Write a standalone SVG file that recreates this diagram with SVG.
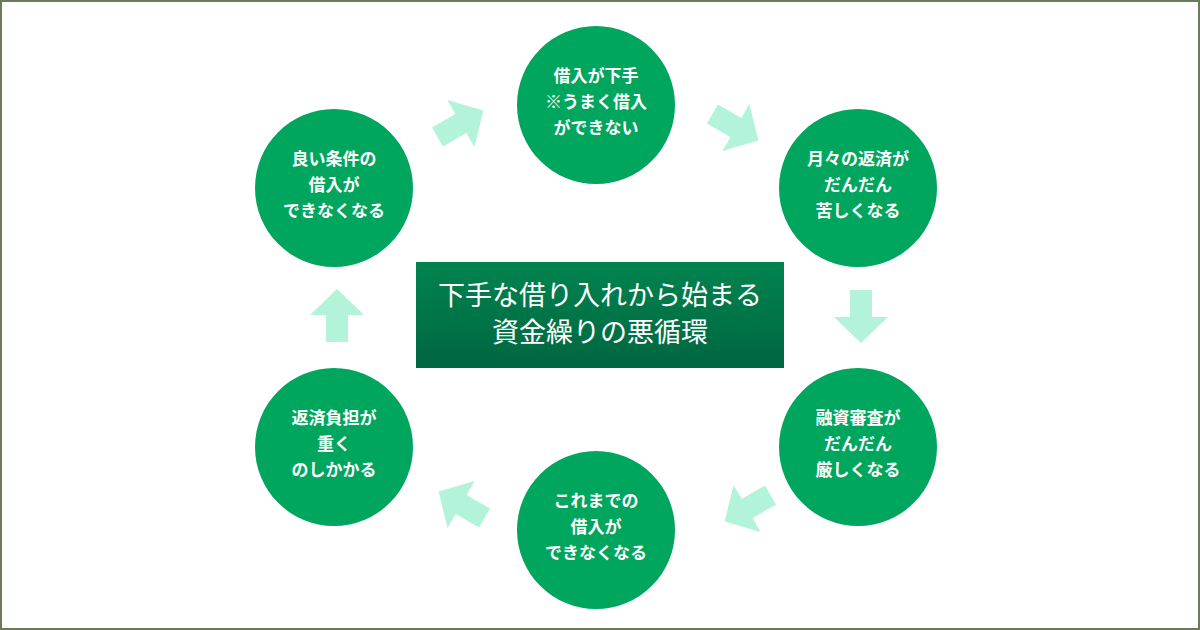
<svg xmlns="http://www.w3.org/2000/svg" width="1200" height="630" viewBox="0 0 1200 630">
<defs>
<linearGradient id="bg" x1="0" y1="0" x2="0" y2="1"><stop offset="0" stop-color="#00844f"/><stop offset="1" stop-color="#006641"/></linearGradient>
<path id="arr" d="M-26,-11 H1 V-27 L27,0 L1,27 V11 H-26 Z"/>
</defs>
<style>
.c{fill:#00a65d}
.t{font-family:"Noto Sans CJK JP",sans-serif;font-weight:bold;font-size:17px;fill:#fff;text-anchor:middle}
.m{font-family:"Noto Sans CJK JP",sans-serif;font-size:27px;fill:#fff;text-anchor:middle}
.a{fill:#b3f3d9}
</style>
<rect x="1" y="1" width="1198" height="628" fill="#fff" stroke="#6b7a57" stroke-width="2"/>
<g id="connectors">
<use href="#arr" class="a" transform="translate(460,124) rotate(-30)"/>
<use href="#arr" class="a" transform="translate(735,127) rotate(30)"/>
<use href="#arr" class="a" transform="translate(861,316) rotate(90)"/>
<use href="#arr" class="a" transform="translate(748,508) rotate(150)"/>
<use href="#arr" class="a" transform="translate(462,505) rotate(210)"/>
<use href="#arr" class="a" transform="translate(337,316) rotate(-90)"/>
</g>
<g id="center"><rect x="416" y="262" width="368" height="106" fill="url(#bg)"/>
<text class="m" x="600" y="305">下手な借り入れから始まる</text><text class="m" x="600" y="342">資金繰りの悪循環</text></g>
<g id="n1"><circle class="c" cx="596" cy="105" r="79"/><text class="t" x="596" y="82">借入が下手</text><text class="t" x="596" y="108">※うまく借入</text><text class="t" x="596" y="134">ができない</text></g>
<g id="n2"><circle class="c" cx="858" cy="188" r="79"/><text class="t" x="858" y="165">月々の返済が</text><text class="t" x="858" y="191">だんだん</text><text class="t" x="858" y="217">苦しくなる</text></g>
<g id="n3"><circle class="c" cx="858" cy="447" r="79"/><text class="t" x="858" y="424">融資審査が</text><text class="t" x="858" y="450">だんだん</text><text class="t" x="858" y="476">厳しくなる</text></g>
<g id="n4"><circle class="c" cx="596" cy="530" r="79"/><text class="t" x="596" y="507">これまでの</text><text class="t" x="596" y="533">借入が</text><text class="t" x="596" y="559">できなくなる</text></g>
<g id="n5"><circle class="c" cx="334" cy="447" r="79"/><text class="t" x="334" y="424">返済負担が</text><text class="t" x="334" y="450">重く</text><text class="t" x="334" y="476">のしかかる</text></g>
<g id="n6"><circle class="c" cx="334" cy="188" r="79"/><text class="t" x="334" y="165">良い条件の</text><text class="t" x="334" y="191">借入が</text><text class="t" x="334" y="217">できなくなる</text></g>
</svg>
